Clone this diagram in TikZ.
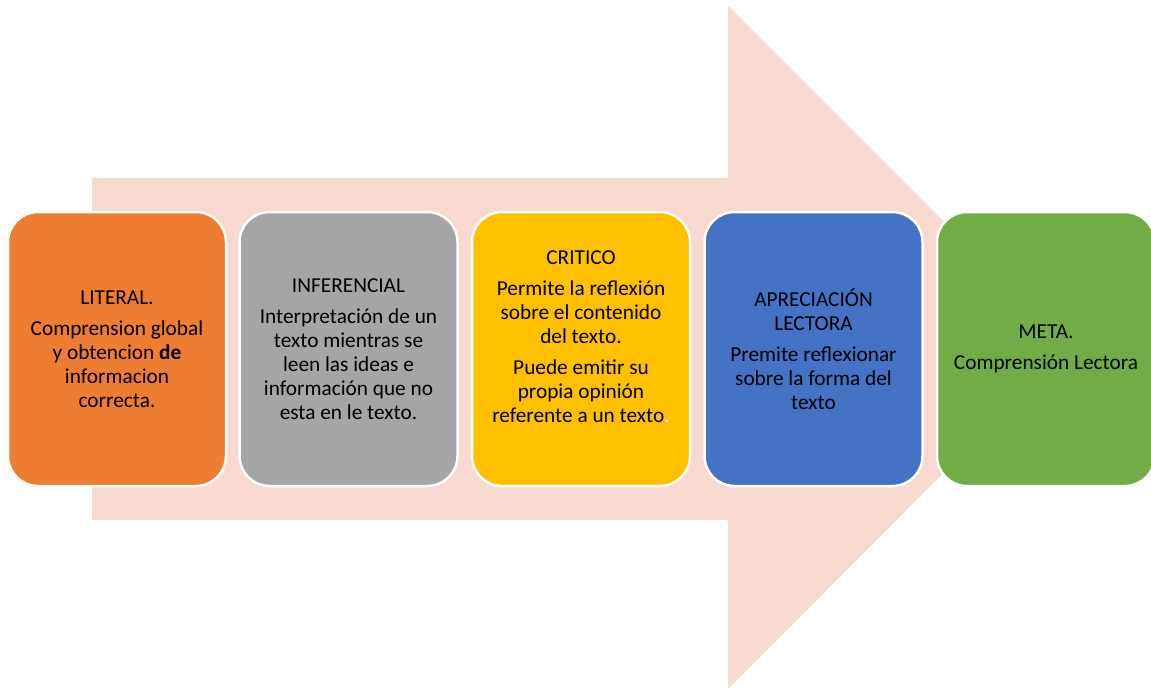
\documentclass[tikz,border=0pt]{standalone}
\usepackage{fontspec}
\setmainfont{Carlito}
\definecolor{arrowc}{HTML}{F8D9CF}
\definecolor{orangec}{HTML}{ED7D31}
\definecolor{grayc}{HTML}{A5A5A5}
\definecolor{yellowc}{HTML}{FFC000}
\definecolor{bluec}{HTML}{4472C4}
\definecolor{greenc}{HTML}{70AD47}
\begin{document}
\begin{tikzpicture}[x=1pt,y=-1pt,
  box/.style={draw=white, line width=2.5pt, rounded corners=30pt,
    minimum width=218pt, minimum height=274pt, inner sep=0pt,
    align=center, text=black, font=\fontsize{21.3}{24}\selectfont}]
\useasboundingbox (0,0) rectangle (1151,689);
\fill[arrowc] (92,178) -- (728,178) -- (728,6) -- (1069,347) -- (728,689) -- (728,520) -- (92,520) -- cycle;
\node[box, fill=orangec] (lit) at (117,349) {LITERAL.\\[7pt]Comprension global\\y obtencion \textbf{de}\\informacion\\correcta.};
\node[box, fill=grayc] (inf) at (348.5,349) {INFERENCIAL\\[7pt]Interpretaci\'on de un\\texto mientras se\\leen las ideas e\\informaci\'on que no\\esta en le texto.};
\node[box, fill=yellowc] (cri) at (581,349) {};
\node[align=center, text=black, font=\fontsize{21.3}{24}\selectfont] (critxt) at (581,337) {CRITICO\\[7pt]Permite la reflexi\'on\\sobre el contenido\\del texto.\\[7pt]Puede emitir su\\propia opini\'on\\referente a un texto\textcolor{white}{.}};
\node[box, fill=bluec] (apr) at (813.5,349) {APRECIACI\'ON\\LECTORA\\[7pt]Premite reflexionar\\sobre la forma del\\texto};
\node[box, fill=greenc] (meta) at (1046,349) {META.\\[7pt]Comprensi\'on Lectora};
\end{tikzpicture}
\end{document}
